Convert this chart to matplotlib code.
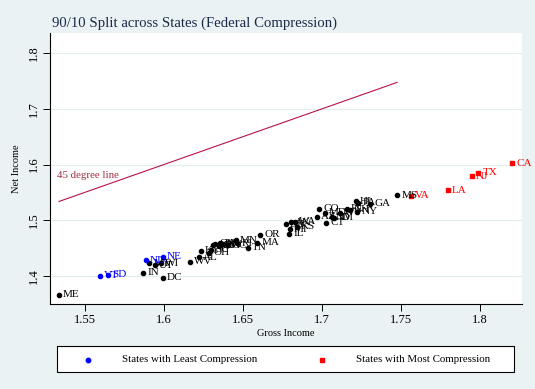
import matplotlib
matplotlib.use("Agg")
import matplotlib.pyplot as plt
from matplotlib.lines import Line2D
from matplotlib.patches import Rectangle

# ---- data ----
other_states = ["ME", "IN", "DC", "MT", "UT", "WI", "WV",
                "AL", "KY", "OH", "SC", "AR", "OK", "MO", "IA", "NV", "NC", "MN", "RI", "TN", "MA", "OR",
                "WA", "AK", "DE", "KS", "MI", "IL",
                "CO", "AZ", "CT", "MD", "NM", "ID", "WY", "FL", "NH", "NY", "HI", "PA", "GA", "MS"]
other_gross = [1.5338, 1.5869, 1.5994, 1.5909, 1.5943, 1.5981, 1.6166,
               1.6223, 1.6236, 1.6288, 1.6297, 1.6314, 1.6324, 1.6351, 1.6356, 1.6373, 1.6405, 1.6455, 1.6465, 1.6531, 1.6592, 1.6609,
               1.6830, 1.6803, 1.6773, 1.6841, 1.6798, 1.6792,
               1.6982, 1.6967, 1.7026, 1.7020, 1.7062, 1.7078, 1.7114, 1.7157, 1.7178, 1.7224, 1.7216, 1.7230, 1.7304, 1.7477]
other_net = [1.3659, 1.4059, 1.3969, 1.4228, 1.4197, 1.4228, 1.4260,
             1.4336, 1.4449, 1.4418, 1.4467, 1.4551, 1.4575, 1.4544, 1.4587, 1.4569, 1.4551, 1.4646, 1.4587, 1.4508, 1.4598, 1.4736,
             1.4975, 1.4964, 1.4928, 1.4885, 1.4838, 1.4754,
             1.5203, 1.5065, 1.4957, 1.5136, 1.5054, 1.5047, 1.5136, 1.5203, 1.5185, 1.5154, 1.5346, 1.5311, 1.5293, 1.5454]

least_states = ["VT", "SD", "ND", "NE"]
least_gross = [1.5597, 1.5646, 1.5886, 1.5994]
least_net = [1.4000, 1.4018, 1.4287, 1.4347]

most_states = ["VA", "LA", "NJ", "TX", "CA"]
most_gross = [1.7563, 1.7795, 1.7949, 1.7989, 1.8204]
most_net = [1.5442, 1.5539, 1.5790, 1.5855, 1.6023]

x_ticks = [1.55, 1.6, 1.65, 1.7, 1.75, 1.8]
x_ticklabels = ["1.55", "1.6", "1.65", "1.7", "1.75", "1.8"]
y_ticks = [1.4, 1.5, 1.6, 1.7, 1.8]
y_ticklabels = ["1.4", "1.5", "1.6", "1.7", "1.8"]

title = "90/10 Split across States (Federal Compression)"
legend_labels = ["States with Least Compression", "States with Most Compression"]

# ---- style ----
plt.rcParams['font.family'] = ['Liberation Serif', 'DejaVu Serif']
BG = "#eaf2f3"
GRID = "#e3edef"
W, H = 535, 389

fig = plt.figure(figsize=(5.35, 3.89), dpi=100, facecolor=BG)
ax = fig.add_axes([50/W, 1 - 304/H, 472/W, 271/H])
ax.set_facecolor("white")

ax.set_xlim(1.5281, 1.8266)
ax.set_ylim(1.3497, 1.8363)

for s in ["top", "right"]:
    ax.spines[s].set_visible(False)
for s in ["left", "bottom"]:
    ax.spines[s].set_linewidth(0.8)

ax.set_xticks(x_ticks)
ax.set_xticklabels(x_ticklabels, fontsize=9)
ax.set_yticks(y_ticks)
ax.set_yticklabels(y_ticklabels, fontsize=9, rotation=90, va="center")
ax.tick_params(direction="out", length=5, width=0.7, pad=2)
ax.yaxis.grid(True, color=GRID, linewidth=0.9)
ax.set_axisbelow(True)

ax.set_xlabel("Gross Income", fontsize=7.5, labelpad=2)
ax.set_ylabel("Net Income", fontsize=7.5, labelpad=5)

# 45 degree line across the other states' range
lo, hi = min(other_gross), max(other_gross)
ax.plot([lo, hi], [lo, hi], color="#b8124a", linewidth=0.8, zorder=2)
ax.text(lo - 0.0015, 1.580, "45 degree line", fontsize=7.8, color="#a03040",
        ha="left", va="center")

ms = 3.0
ax.plot(other_gross, other_net, "o", color="black", ms=ms, zorder=3, linestyle="none")
ax.plot(least_gross, least_net, "o", color="#0000ff", ms=ms, zorder=3, linestyle="none")
ax.plot(most_gross, most_net, "s", color="#ff0000", ms=ms * 0.9, zorder=3, linestyle="none")

def lab(names, xs, ys, col):
    for n, x, y in zip(names, xs, ys):
        ax.annotate(n, (x, y), xytext=(3, 0), textcoords="offset points",
                    fontsize=8, color=col, ha="left", va="center", zorder=4)

lab(other_states, other_gross, other_net, "black")
lab(least_states, least_gross, least_net, "#0000ff")
lab(most_states, most_gross, most_net, "#ff0000")

fig.text(52/W, 1 - 23/H, title, fontsize=10.6, color="#1c2a4a", ha="left", va="center")

# legend box drawn in figure coordinates
fig.patches.append(Rectangle((57/W, 1 - 372/H), 457/W, 26/H, transform=fig.transFigure,
                             facecolor="white", edgecolor="black", linewidth=0.8))
ly = 1 - 360/H
fig.lines.append(Line2D([88/W], [ly], marker="o", color="#0000ff", linestyle="none",
                        ms=3.2, transform=fig.transFigure))
fig.lines.append(Line2D([322/W], [ly], marker="s", color="#ff0000", linestyle="none",
                        ms=3.0, transform=fig.transFigure))
fig.text(122/W, ly, legend_labels[0], fontsize=7.8, ha="left", va="center")
fig.text(356/W, ly, legend_labels[1], fontsize=7.8, ha="left", va="center")

fig.savefig("out.png", dpi=100, facecolor=BG)
